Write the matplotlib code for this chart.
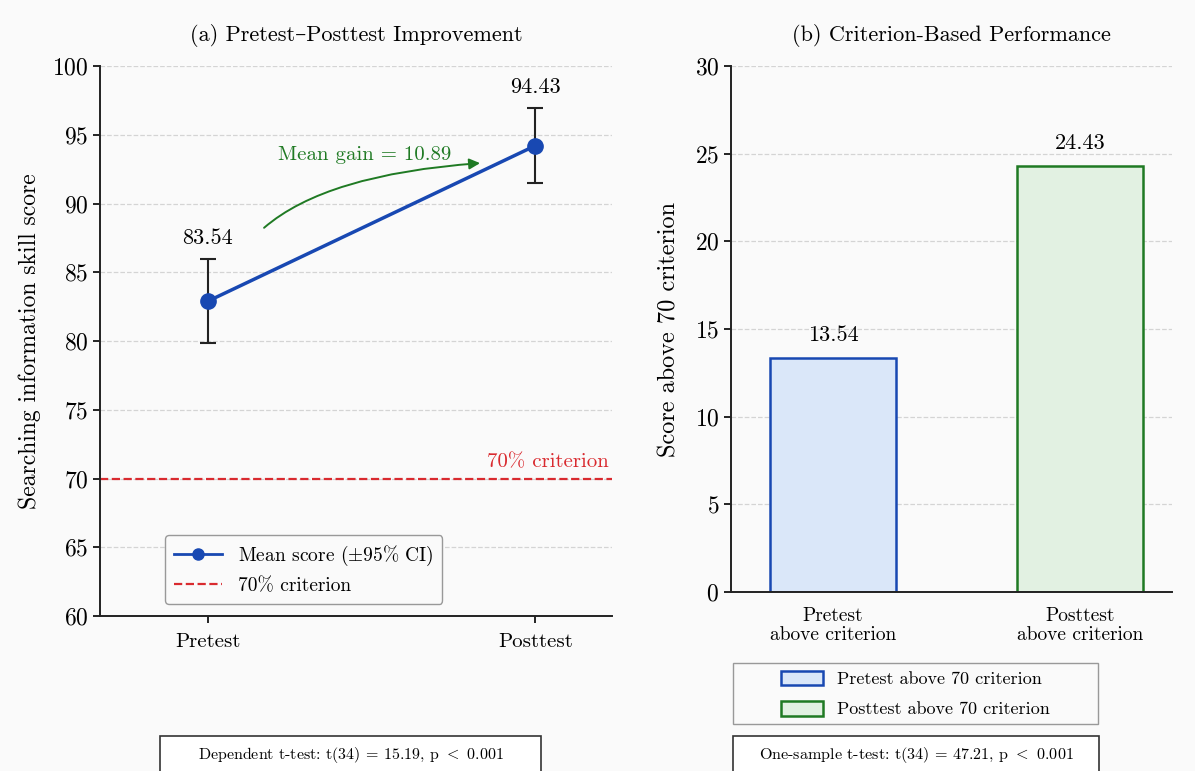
import numpy as np
import matplotlib.pyplot as plt
from matplotlib.patches import Rectangle, Patch
from matplotlib.lines import Line2D

plt.rcParams['font.family'] = ['cmr10', 'DejaVu Serif']
plt.rcParams['mathtext.fontset'] = 'cm'
plt.rcParams['axes.formatter.use_mathtext'] = True

# ---- data ----
phases = ["Pretest", "Posttest"]
mean_scores = [82.9, 94.2]
ci_half = [3.05, 2.73]
mean_labels = ["83.54", "94.43"]
criterion = 70
gain_label = "Mean gain = 10.89"

bar_names = ["Pretest\nabove criterion", "Posttest\nabove criterion"]
bar_values = [13.35, 24.3]
bar_labels = ["13.54", "24.43"]
legend_names = ["Pretest above 70 criterion", "Posttest above 70 criterion"]

test_a = r"Dependent t-test: t(34) = 15.19, p $<$ 0.001"
test_b = r"One-sample t-test: t(34) = 47.21, p $<$ 0.001"

blue = "#1848b2"
red = "#d92a2f"
green = "#1f7a23"
bg = "#fafafa"

W, H = 1195, 771
fig = plt.figure(figsize=(W / 100, H / 100), dpi=100, facecolor=bg)
ax1 = fig.add_axes([0.0837, 0.201, 0.4285, 0.7134], facecolor=bg)
ax2 = fig.add_axes([0.6117, 0.2322, 0.369, 0.6822], facecolor=bg)

for ax in (ax1, ax2):
    ax.spines['top'].set_visible(False)
    ax.spines['right'].set_visible(False)
    for s in ('left', 'bottom'):
        ax.spines[s].set_linewidth(1.4)
        ax.spines[s].set_color('#222222')
    ax.set_axisbelow(True)
    ax.grid(axis='y', linestyle='--', color='#d4d4d4', linewidth=0.9)
    ax.tick_params(axis='y', labelsize=17, length=5, width=1.2)

# ---- (a) pretest-posttest ----
x = np.arange(len(phases))
ax1.plot(x, mean_scores, color=blue, lw=2.5, marker='o', markersize=11, zorder=3)
ax1.errorbar(x, mean_scores, yerr=ci_half, fmt='none', ecolor='#222222',
             elinewidth=1.5, capsize=6, capthick=1.5, zorder=2)
for xi, m, c, lab in zip(x, mean_scores, ci_half, mean_labels):
    ax1.text(xi, m + c + 1.55, lab, ha='center', va='center', fontsize=16)

ax1.axhline(criterion, color=red, ls='--', lw=1.6, zorder=1)
ax1.text(1.225, criterion + 1.2, "70% criterion", color=red, ha='right',
         va='center', fontsize=15)

ax1.annotate("", xy=(0.84, 92.95), xytext=(0.165, 88.1),
             arrowprops=dict(arrowstyle='-|>', color=green, lw=1.4,
                             mutation_scale=16,
                             connectionstyle="angle3,angleA=42,angleB=4"))
ax1.text(0.48, 93.5, gain_label, color=green, ha='center', va='center',
         fontsize=15)

ax1.set_xlim(-0.33, 1.235)
ax1.set_ylim(60, 100)
ax1.set_yticks(np.arange(60, 101, 5))
ax1.set_xticks(x)
ax1.set_xticklabels(phases, fontsize=15)
ax1.tick_params(axis='x', length=5, width=1.2, pad=7)
ax1.set_ylabel("Searching information skill score", fontsize=17, labelpad=8)
ax1.set_title("(a) Pretest\u2013Posttest Improvement", fontsize=16, pad=18)

handles_a = [Line2D([], [], color=blue, lw=2, marker='o', markersize=8),
             Line2D([], [], color=red, ls='--', lw=1.6)]
ax1.legend(handles_a, [r"Mean score ($\pm$95% CI)", "70% criterion"],
           loc='lower left', bbox_to_anchor=(0.127, 0.022), borderaxespad=0,
           fontsize=14, frameon=True, edgecolor='#999999', facecolor=bg,
           framealpha=1, handlelength=2.5, borderpad=0.45)

# ---- (b) criterion-based ----
xb = np.arange(len(bar_names))
ax2.bar(xb, bar_values, width=0.51, color=["#dae7f9", "#e2f1e2"],
        edgecolor=[blue, green], linewidth=1.8, zorder=2)
for xi, v, lab in zip(xb, bar_values, bar_labels):
    ax2.text(xi, v + 0.75, lab, ha='center', va='bottom', fontsize=16)
ax2.set_xlim(-0.413, 1.37)
ax2.set_ylim(0, 30)
ax2.set_yticks(np.arange(0, 31, 5))
ax2.set_xticks(xb)
ax2.set_xticklabels(bar_names, fontsize=14, linespacing=1.1)
ax2.tick_params(axis='x', length=0, pad=11)
ax2.set_ylabel("Score above 70 criterion", fontsize=17.5, labelpad=10)
ax2.set_title("(b) Criterion-Based Performance", fontsize=16, pad=18)

# legend for bars: frame drawn separately so it spans the full box width
handles_b = [Patch(facecolor="#dae7f9", edgecolor=blue, lw=1.8),
             Patch(facecolor="#e2f1e2", edgecolor=green, lw=1.8)]
fig.patches.append(Rectangle((733 / W, 1 - 724 / H), 365 / W, 61 / H,
                             transform=fig.transFigure, facecolor=bg,
                             edgecolor='#999999', lw=1.0))
fig.legend(handles_b, legend_names, loc='center',
           bbox_to_anchor=(915.5 / W, 1 - 694 / H), fontsize=13,
           frameon=False, handlelength=2.3, handleheight=0.9,
           labelspacing=0.75)

# ---- bottom test boxes ----
fig.patches.append(Rectangle((160 / W, -0.02), 381 / W, 1 - 736 / H + 0.02,
                             transform=fig.transFigure, facecolor='white',
                             edgecolor='#333333', lw=1.2))
fig.text(350.5 / W, 1 - 755 / H, test_a, ha='center', va='center', fontsize=11.5)
fig.patches.append(Rectangle((733 / W, -0.02), 366 / W, 1 - 736 / H + 0.02,
                             transform=fig.transFigure, facecolor='white',
                             edgecolor='#333333', lw=1.2))
fig.text(916 / W, 1 - 755 / H, test_b, ha='center', va='center', fontsize=11.6)

fig.savefig("out.png", dpi=100, facecolor=bg)
